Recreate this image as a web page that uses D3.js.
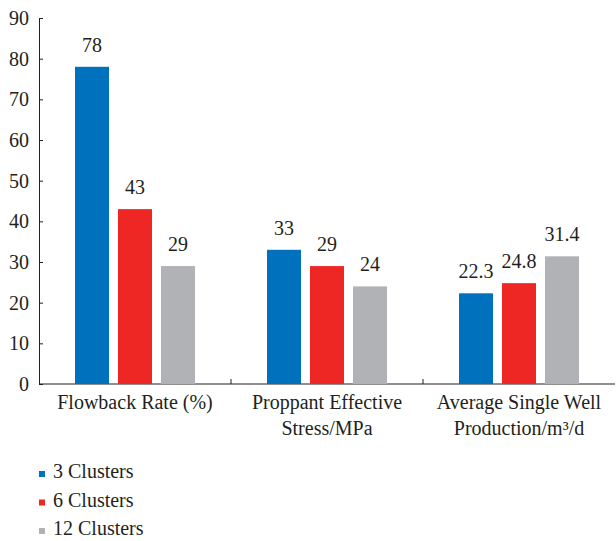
<!DOCTYPE html>
<html>
<head>
<meta charset="utf-8">
<script src="https://cdn.jsdelivr.net/npm/d3@7"></script>
<style>
  body { margin: 0; background: #fff; }
  text { font-family: "Liberation Serif", "Times New Roman", serif; fill: #231F20; }
</style>
</head>
<body>
<div id="chart"></div>
<script>
// data
const categories = ["Flowback Rate (%)", "Proppant Effective Stress/MPa", "Average Single Well Production/m³/d"]
const catLines = [["Flowback Rate (%)"], ["Proppant Effective", "Stress/MPa"], ["Average Single Well", "Production/m³/d"]]
const series = ["3 Clusters", "6 Clusters", "12 Clusters"]
const colors = ["#0071BC", "#EE2724", "#B1B2B5"]
const values3 = [78, 33, 22.3]
const values6 = [43, 29, 24.8]
const values12 = [29, 24, 31.4]
const yTicks = [0, 10, 20, 30, 40, 50, 60, 70, 80, 90]

const width = 616, height = 541
const margin = {top: 18, right: 1, bottom: 157, left: 39}
const innerW = width - margin.left - margin.right
const innerH = height - margin.top - margin.bottom
const fontSize = "20px"

const allValues = [values3, values6, values12]
const data = categories.map((c, i) => ({
    cat: c,
    vals: series.map((s, j) => ({series: s, value: allValues[j][i], color: colors[j]}))
}))

const svg = d3.select("#chart").append("svg")
    .attr("width", width)
    .attr("height", height)
const g = svg.append("g")
    .attr("transform", `translate(${margin.left},${margin.top})`)

const x0 = d3.scaleBand().domain(categories).range([0, innerW])
const groupW = 120
const x1 = d3.scaleBand().domain(series).range([0, groupW]).paddingInner(9 / 43)
const y = d3.scaleLinear().domain([0, 90]).range([innerH, 0])

// y axis, ticks point inward
const yAxis = g.append("g")
    .call(d3.axisLeft(y).tickValues(yTicks).tickSizeInner(-4).tickSizeOuter(0).tickPadding(10))
yAxis.selectAll("path, line").attr("stroke", "#231F20")
yAxis.selectAll("text")
    .style("font-size", fontSize)
    .style("font-family", "Liberation Serif, serif")
    .attr("fill", "#231F20")

// x axis line + boundary ticks
g.append("line")
    .attr("x1", 0).attr("x2", innerW)
    .attr("y1", innerH).attr("y2", innerH)
    .attr("stroke", "#231F20")
g.selectAll("line.cat-tick")
    .data(categories.slice(1))
    .enter()
    .append("line")
    .attr("class", "cat-tick")
    .attr("x1", d => x0(d)).attr("x2", d => x0(d))
    .attr("y1", innerH).attr("y2", innerH - 5)
    .attr("stroke", "#231F20")

// bars
const groups = g.selectAll("g.grp")
    .data(data)
    .enter()
    .append("g")
    .attr("class", "grp")
    .attr("transform", d => `translate(${x0(d.cat) + (x0.bandwidth() - groupW) / 2},0)`)

groups.selectAll("rect")
    .data(d => d.vals)
    .enter()
    .append("rect")
    .attr("x", d => x1(d.series))
    .attr("y", d => y(d.value))
    .attr("width", x1.bandwidth())
    .attr("height", d => innerH - y(d.value))
    .attr("fill", d => d.color)

groups.selectAll("text.val")
    .data(d => d.vals)
    .enter()
    .append("text")
    .attr("class", "val")
    .attr("x", d => x1(d.series) + x1.bandwidth() / 2)
    .attr("y", d => y(d.value) - 15)
    .attr("text-anchor", "middle")
    .style("font-size", fontSize)
    .text(d => d.value)

// category labels
const labels = g.selectAll("text.cat")
    .data(categories)
    .enter()
    .append("text")
    .attr("class", "cat")
    .attr("text-anchor", "middle")
    .attr("transform", d => `translate(${x0(d) + x0.bandwidth() / 2},${innerH + 25})`)
    .style("font-size", fontSize)
labels.selectAll("tspan")
    .data((d, i) => catLines[i])
    .enter()
    .append("tspan")
    .attr("x", 0)
    .attr("y", (d, i) => i * 26)
    .text(d => d)

// legend
const legend = svg.append("g")
    .attr("transform", "translate(39,471)")
const items = legend.selectAll("g")
    .data(series)
    .enter()
    .append("g")
    .attr("transform", (d, i) => `translate(0,${i * 28.5})`)
items.append("rect")
    .attr("width", 6).attr("height", 6)
    .attr("fill", (d, i) => colors[i])
items.append("text")
    .attr("x", 14)
    .attr("y", 7)
    .style("font-size", fontSize)
    .text(d => d)
</script>
</body>
</html>
